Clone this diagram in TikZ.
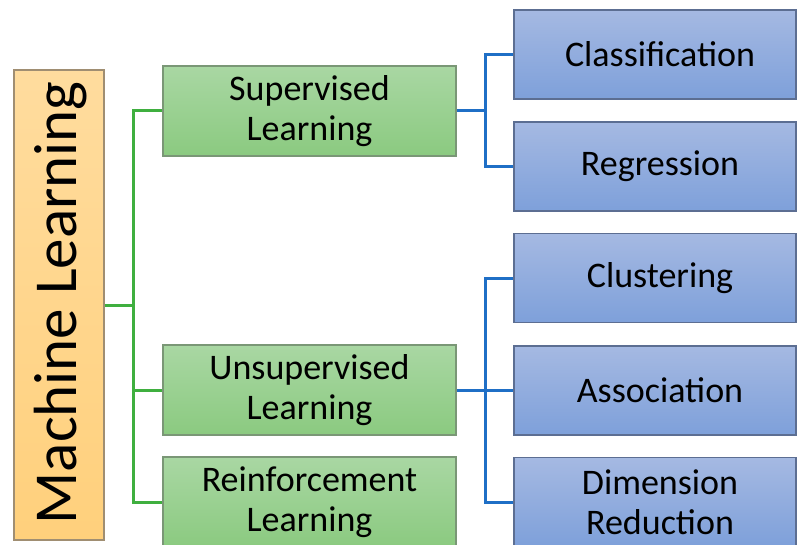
\documentclass[tikz,border=0pt]{standalone}
\usepackage{fontspec}
\setmainfont{Carlito}
\begin{document}
\begin{tikzpicture}[x=1pt,y=-1pt,
  box/.style={rectangle, draw, line width=1.3pt, inner sep=0pt, align=center,
    font=\fontsize{36}{40}\selectfont, text=black},
  mlbox/.style={box, draw=orangeedge, top color=orangetop, bottom color=orangebot, shading angle=0},
  greenbox/.style={box, draw=greenedge, top color=greentop, bottom color=greenbot,
    minimum width=293pt, minimum height=90pt},
  bluebox/.style={box, draw=blueedge, top color=bluetop, bottom color=bluebot,
    minimum width=282pt, minimum height=89pt},
  bluetext/.style={font=\fontsize{36}{40}\selectfont, align=center, inner sep=0pt},
  gline/.style={draw=glinec, line width=3pt},
  bline/.style={draw=blinec, line width=3pt}]
\definecolor{orangetop}{HTML}{FFDC9E}
\definecolor{orangebot}{HTML}{FFD07C}
\definecolor{orangeedge}{HTML}{A08E72}
\definecolor{greentop}{HTML}{A9D7A3}
\definecolor{greenbot}{HTML}{8BCA80}
\definecolor{greenedge}{HTML}{7A9776}
\definecolor{bluetop}{HTML}{A5B9E2}
\definecolor{bluebot}{HTML}{7EA0DA}
\definecolor{blueedge}{HTML}{5C6E92}
\definecolor{glinec}{HTML}{3FAF3F}
\definecolor{blinec}{HTML}{1F6FC6}
\useasboundingbox (0,0) rectangle (797,545);
\clip (0,0) rectangle (797,545);
% root
\node[mlbox, minimum width=90pt, minimum height=470pt] (ml) at (59,305) {};
\node[font=\fontsize{61}{61}\selectfont, rotate=90, inner sep=0pt] (mltext) at (61,303) {Machine Learning};
% level 1
\node[greenbox] (sup) at (309.5,111) {Supervised\\Learning};
\node[greenbox] (uns) at (309.5,390) {Unsupervised\\Learning};
\node[greenbox] (rei) at (309.5,502) {Reinforcement\\Learning};
% level 2
\node[bluebox] (cls) at (655,54.5) {};
\node[bluebox] (reg) at (655,166.5) {};
\node[bluebox] (clu) at (655,278) {};
\node[bluebox] (ass) at (655,390.5) {};
\node[bluebox] (dim) at (655,502) {};
\node[bluetext] (clst) at (660,54.5) {Classification};
\node[bluetext] (regt) at (660,166.5) {Regression};
\node[bluetext] (clut) at (660,278) {Clustering};
\node[bluetext] (asst) at (660,390.5) {Association};
\node[bluetext] (dimt) at (660,502) {Dimension\\Reduction};
% junctions
\coordinate (gj) at (133,305);
\coordinate (bj1) at (485,111);
\coordinate (bj2) at (485,390);
% green connectors
\draw[gline] (ml.east) -- (gj);
\draw[gline] (gj) |- (sup.west);
\draw[gline] (gj) |- (uns.west);
\draw[gline] (gj) |- (rei.west);
% blue connectors
\draw[bline] (sup.east) -- (bj1);
\draw[bline] (bj1) |- (cls.west);
\draw[bline] (bj1) |- (reg.west);
\draw[bline] (uns.east) -- (bj2);
\draw[bline] (bj2) |- (clu.west);
\draw[bline] (bj2) |- (ass.west);
\draw[bline] (bj2) |- (dim.west);
\end{tikzpicture}
\end{document}
